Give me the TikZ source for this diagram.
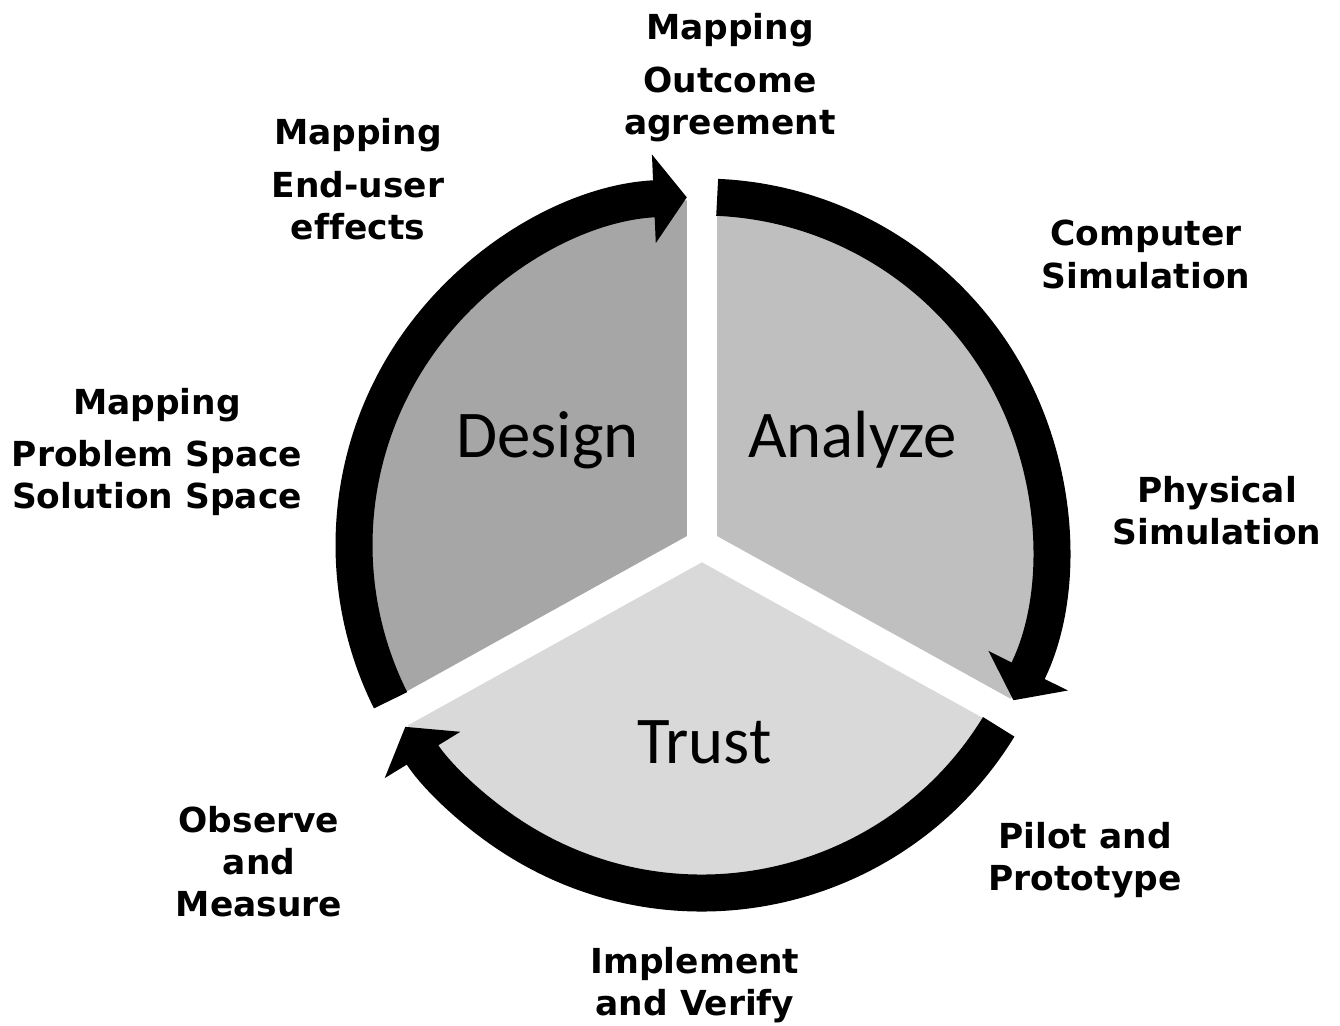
\documentclass[tikz,border=0pt]{standalone}
\usepackage{fontspec}
\usetikzlibrary{arrows.meta}
\newfontfamily\lblfont{DejaVu Sans}[Ligatures=CommonOff]
\newfontfamily\phasefont{Carlito}
\definecolor{designgray}{HTML}{A6A6A6}
\definecolor{analyzegray}{HTML}{BFBFBF}
\definecolor{trustgray}{HTML}{D9D9D9}

\begin{document}
\begin{tikzpicture}[
  lbl/.style={font=\lblfont\bfseries\fontsize{9.8}{12}\selectfont, align=center, inner sep=0pt},
  phase/.style={font=\phasefont\fontsize{19}{22}\selectfont, anchor=base, inner sep=0pt},
  ring/.style={line width=0.37cm, -{Triangle[length=0.33cm, width=0.87cm]}},
  gap/.style={white, line width=0.30cm}
]
\useasboundingbox (-7.02,-4.80) rectangle (6.38,5.45);
\coordinate (O) at (0,0);
% the three sectors
\fill[designgray] (O) -- (90:3.45) arc[start angle=90, end angle=209, radius=3.45] -- cycle;
\fill[analyzegray] (O) -- (-29:3.45) arc[start angle=-29, end angle=90, radius=3.45] -- cycle;
\fill[trustgray] (O) -- (209:3.45) arc[start angle=209, end angle=331, radius=3.45] -- cycle;
% white cuts between the sectors
\draw[gap] (O) -- (90:3.9);
\draw[gap] (O) -- (-29:3.9);
\draw[gap] (O) -- (209:3.9);
% cycle arrows, clockwise
\draw[ring] (206.5:3.48) arc[start angle=206.5, end angle=92.5, radius=3.48];
\draw[ring] (87.5:3.48) arc[start angle=87.5, end angle=-26.5, radius=3.48];
\draw[ring] (-31.5:3.48) arc[start angle=-31.5, end angle=-148.5, radius=3.48];
% phase names
\node[phase] (design) at (-1.545,0.87) {Design};
\node[phase] (analyze) at (1.505,0.87) {Analyze};
\node[phase] (trust) at (0.025,-2.18) {Trust};
% activities around the cycle
\node[lbl] (outcome) at (0.28,4.675) {Mapping\\[3pt]Outcome\\agreement};
\node[lbl] (enduser) at (-3.44,3.66) {Mapping\\[3pt]End-user\\effects};
\node[lbl] (compsim) at (4.44,2.905) {Computer\\Simulation};
\node[lbl] (problem) at (-5.45,0.93) {Mapping\\[3pt]Problem Space\\Solution Space};
\node[lbl] (physsim) at (5.15,0.345) {Physical\\Simulation};
\node[lbl] (pilot) at (3.83,-3.15) {Pilot and\\Prototype};
\node[lbl] (observe) at (-4.43,-3.165) {Observe\\and\\Measure};
\node[lbl] (implement) at (-0.07,-4.405) {Implement\\and Verify};
\end{tikzpicture}
\end{document}
